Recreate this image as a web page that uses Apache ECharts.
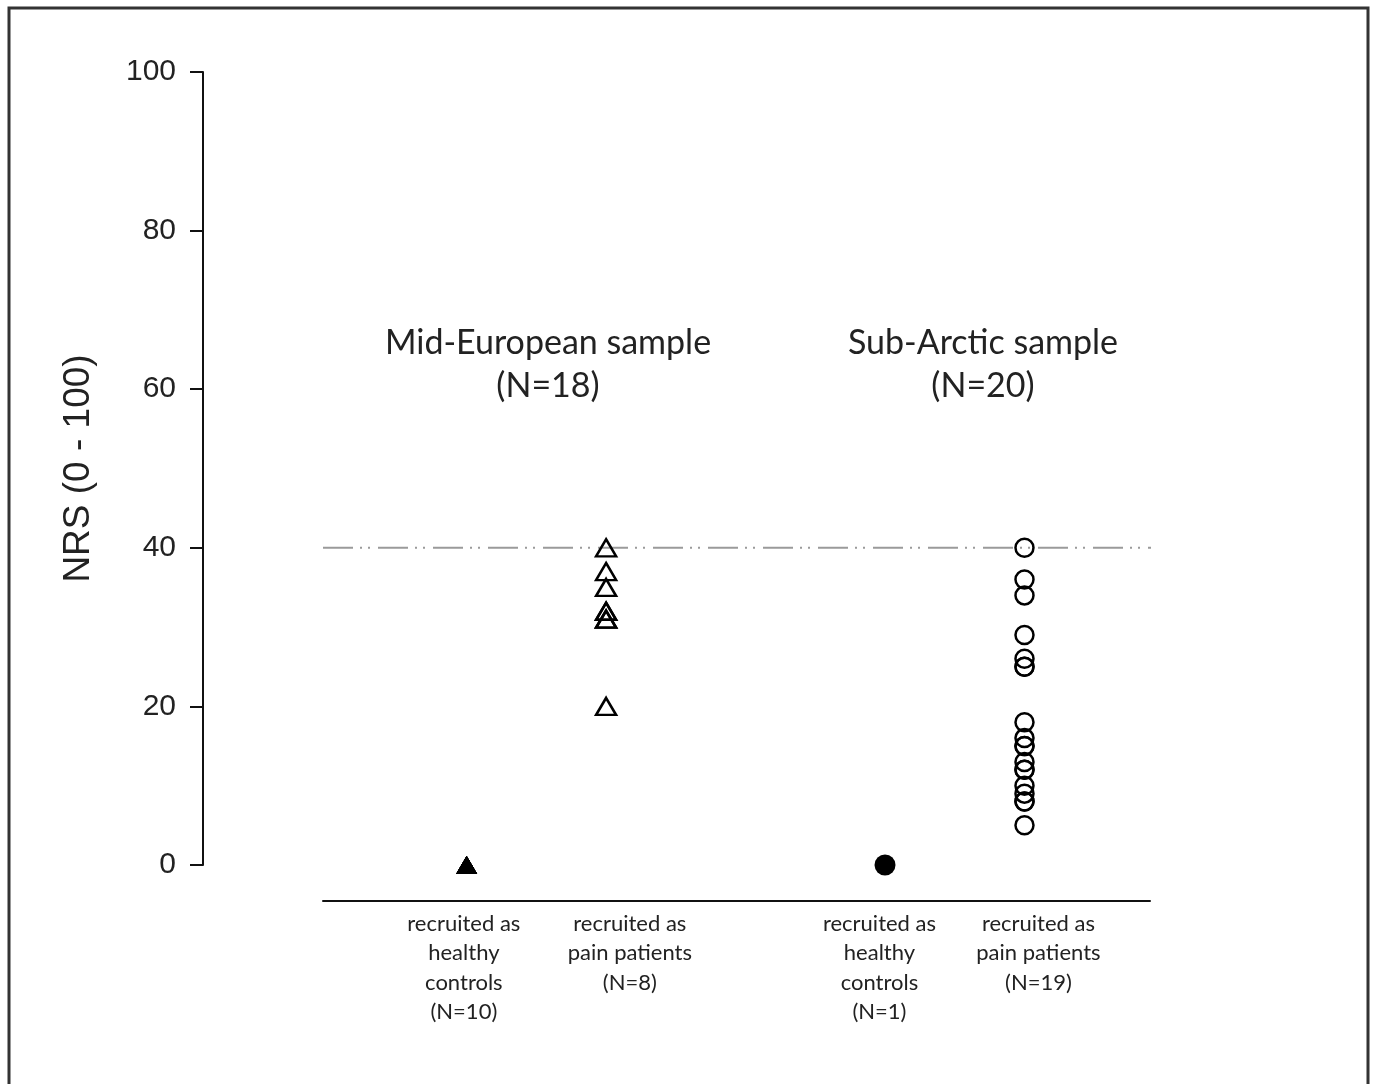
<!DOCTYPE html>
<html>
<head>
<meta charset="utf-8">
<script src="https://cdn.jsdelivr.net/npm/echarts@6/dist/echarts.min.js"></script>
<style>
html, body { margin: 0; padding: 0; background: #fff; }
#main { width: 1373px; height: 1084px; }
</style>
</head>
<body>
<div id="main"></div>
<script>
// NRS values per group
var midHealthy = [0, 0, 0, 0, 0, 0, 0, 0, 0, 0];
var midPain = [40, 37, 35, 32, 32, 31, 31, 20];
var subHealthy = [0];
var subPain = [40, 36, 34, 29, 26, 25, 25, 18, 16, 15, 15, 13, 12, 12, 10, 9, 8, 8, 5];

var groupX = [1, 2, 4, 5];
var groupLabels = [
    'recruited as\nhealthy\ncontrols\n(N=10)',
    'recruited as\npain patients\n(N=8)',
    'recruited as\nhealthy\ncontrols\n(N=1)',
    'recruited as\npain patients\n(N=19)'
];
var labelX = [0.98, 2.17, 3.96, 5.1];
var sampleTitles = ['Mid-European sample\n(N=18)', 'Sub-Arctic sample\n(N=20)'];
var sampleTitleX = [548, 983];
var cutoff = 40;
var cutoffSpan = [-0.03, 6.02];

var pts = function(x, arr) {
    var out = [];
    for (var i = 0; i < arr.length; i++) out.push([x, arr[i]]);
    return out;
};

var chart = echarts.init(document.getElementById('main'));

var titleText = function(i) {
    return {
        type: 'text',
        x: sampleTitleX[i],
        y: 365,
        style: {
            text: sampleTitles[i],
            font: '34px Lato, "Open Sans", sans-serif',
            fill: '#222',
            lineHeight: 43,
            align: 'center',
            verticalAlign: 'middle',
            textAlign: 'center',
            textVerticalAlign: 'middle'
        }
    };
};

var option = {
    backgroundColor: '#fff',
    animation: false,
    grid: {
        left: 323,
        right: 223,
        top: 72,
        bottom: 219
    },
    xAxis: {
        type: 'value',
        min: -0.03,
        max: 5.9,
        offset: 36,
        splitLine: { show: false },
        axisLine: { show: true, onZero: false, lineStyle: { color: '#111', width: 2 } },
        axisTick: { show: false },
        axisLabel: {
            customValues: labelX,
            margin: 8,
            color: '#222',
            fontFamily: 'Lato, "Open Sans", sans-serif',
            fontSize: 22,
            lineHeight: 29.5,
            align: 'center',
            formatter: function(v) {
                var best = 0;
                for (var i = 1; i < labelX.length; i++) {
                    if (Math.abs(labelX[i] - v) < Math.abs(labelX[best] - v)) best = i;
                }
                return groupLabels[best];
            }
        }
    },
    yAxis: {
        type: 'value',
        min: 0,
        max: 100,
        interval: 20,
        offset: 120,
        name: 'NRS (0 - 100)',
        nameLocation: 'middle',
        nameGap: 106,
        nameTextStyle: {
            color: '#222',
            fontFamily: '"Liberation Sans", Arial, sans-serif',
            fontSize: 37
        },
        splitLine: { show: false },
        axisLine: { show: true, onZero: false, lineStyle: { color: '#111', width: 2 } },
        axisTick: { show: true, length: 13, lineStyle: { color: '#111', width: 2 } },
        axisLabel: {
            margin: 27,
            color: '#222',
            fontFamily: '"Liberation Sans", Arial, sans-serif',
            fontSize: 30
        }
    },
    graphic: [
        {
            type: 'rect',
            shape: { x: 9, y: 8, width: 1359, height: 1095 },
            style: { fill: 'none', stroke: '#333', lineWidth: 3 }
        },
        titleText(0),
        titleText(1)
    ],
    series: [
        {
            name: 'cutoff',
            type: 'line',
            clip: false,
            silent: true,
            symbol: 'none',
            lineStyle: { color: '#9a9a9a', width: 2, type: [30, 7, 2, 6, 2, 8] },
            data: [[cutoffSpan[0], cutoff], [cutoffSpan[1], cutoff]],
            z: 1
        },
        {
            name: 'mid healthy',
            type: 'scatter',
            clip: false,
            symbol: 'triangle',
            symbolSize: [21, 18],
            itemStyle: { color: '#000', opacity: 1 },
            data: pts(groupX[0], midHealthy),
            z: 3
        },
        {
            name: 'mid pain',
            type: 'scatter',
            clip: false,
            symbol: 'triangle',
            symbolSize: [20, 17],
            itemStyle: { color: 'rgba(0,0,0,0)', borderColor: '#000', borderWidth: 2.5, opacity: 1 },
            data: pts(groupX[1], midPain),
            z: 3
        },
        {
            name: 'sub healthy',
            type: 'scatter',
            clip: false,
            symbol: 'circle',
            symbolSize: 21,
            itemStyle: { color: '#000', opacity: 1 },
            data: pts(groupX[2], subHealthy),
            z: 3
        },
        {
            name: 'sub pain',
            type: 'scatter',
            clip: false,
            symbol: 'circle',
            symbolSize: 18,
            itemStyle: { color: 'rgba(0,0,0,0)', borderColor: '#000', borderWidth: 2.5, opacity: 1 },
            data: pts(groupX[3], subPain),
            z: 3
        }
    ]
};

chart.setOption(option);
</script>
</body>
</html>
